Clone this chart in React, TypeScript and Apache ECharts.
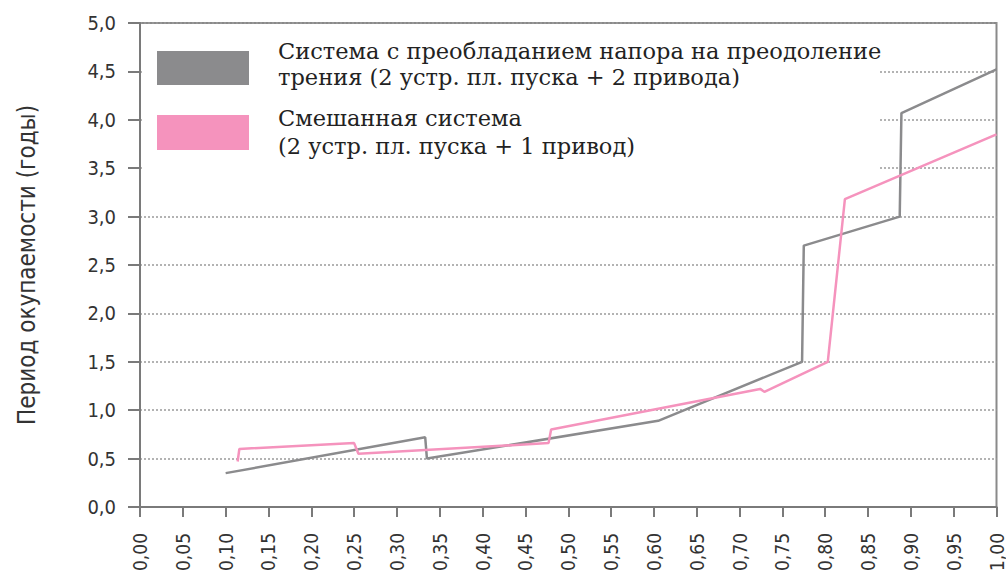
import React, { useEffect, useRef } from "react";
import * as echarts from "echarts";

const seriesNames = [
  "Система с преобладанием напора на преодоление\nтрения (2 устр. пл. пуска + 2 привода)",
  "Смешанная система\n(2 устр. пл. пуска + 1 привод)",
];
const grayX = [0.1, 0.333, 0.335, 0.605, 0.773, 0.775, 0.887, 0.889, 1.0];
const grayY = [0.35, 0.72, 0.5, 0.89, 1.5, 2.7, 3.0, 4.07, 4.52];
const pinkX = [0.114, 0.116, 0.25, 0.255, 0.477, 0.48, 0.724, 0.729, 0.803, 0.823, 1.0];
const pinkY = [0.47, 0.6, 0.66, 0.55, 0.66, 0.8, 1.22, 1.19, 1.5, 3.18, 3.85];
const yAxisName = "Период окупаемости (годы)";

const GRAY = "#8b8b8d";
const PINK = "#f593bd";

export default function App() {
  const ref = useRef<HTMLDivElement>(null);
  useEffect(() => {
    if (!ref.current) return;
    const chart = echarts.init(ref.current, null, { renderer: "svg" });
    const zip = (xs: number[], ys: number[]) => xs.map((x, i) => [x, ys[i]]);
    const sansFont = "'DejaVu Sans Condensed', 'Liberation Sans Narrow', 'Noto Sans', sans-serif";
    const serifFont = "'DejaVu Serif', serif";
    chart.setOption({
      animation: false,
      backgroundColor: "#ffffff",
      grid: {
        left: 140,
        right: 7,
        top: 23,
        bottom: 68,
        show: true,
        borderColor: "#8a8a8a",
        borderWidth: 2,
      },
      xAxis: {
        type: "value",
        min: 0,
        max: 1,
        interval: 0.05,
        axisLine: { show: true, lineStyle: { color: "#7a7a7a", width: 2 } },
        axisTick: { show: true, length: 10, lineStyle: { color: "#7a7a7a", width: 2 } },
        axisLabel: {
          rotate: 90,
          margin: 26,
          color: "#333",
          fontSize: 19,
          fontFamily: sansFont,
          formatter: (v: number) => v.toFixed(2).replace(".", ","),
        },
        splitLine: { show: false },
      },
      yAxis: {
        type: "value",
        min: 0,
        max: 5,
        interval: 0.5,
        name: yAxisName,
        nameLocation: "middle",
        nameGap: 101,
        nameTextStyle: { fontSize: 24, color: "#333", fontFamily: sansFont },
        axisLine: { show: true, lineStyle: { color: "#7a7a7a", width: 2 } },
        axisTick: { show: true, length: 12, lineStyle: { color: "#7a7a7a", width: 2 } },
        axisLabel: {
          margin: 24,
          color: "#333",
          fontSize: 20,
          fontFamily: sansFont,
          formatter: (v: number) => v.toFixed(1).replace(".", ","),
        },
        splitLine: { show: true, lineStyle: { color: "#9a9a9a", type: [2, 2], width: 1.5 } },
      },
      graphic: [
        { type: "rect", shape: { x: 142, y: 26, width: 736, height: 148 }, style: { fill: "#ffffff" }, z: 5 },
        { type: "rect", shape: { x: 157, y: 51, width: 92, height: 34 }, style: { fill: GRAY }, z: 6 },
        { type: "rect", shape: { x: 157, y: 115, width: 92, height: 35 }, style: { fill: PINK }, z: 6 },
        {
          type: "text",
          x: 278,
          y: 38,
          z: 6,
          style: { text: seriesNames[0], fill: "#222", fontSize: 22.5, lineHeight: 26, fontFamily: serifFont },
        },
        {
          type: "text",
          x: 278,
          y: 104,
          z: 6,
          style: { text: seriesNames[1], fill: "#222", fontSize: 22.5, lineHeight: 28, fontFamily: serifFont },
        },
      ],
      series: [
        {
          name: seriesNames[0],
          type: "line",
          data: zip(grayX, grayY),
          showSymbol: false,
          lineStyle: { color: GRAY, width: 2.5 },
          z: 3,
        },
        {
          name: seriesNames[1],
          type: "line",
          data: zip(pinkX, pinkY),
          showSymbol: false,
          lineStyle: { color: PINK, width: 2.5 },
          z: 3,
        },
      ],
    });
    return () => chart.dispose();
  }, []);
  return (
    <div
      ref={ref}
      style={{ position: "fixed", left: 0, top: 0, width: 1006, height: 575, background: "#fff" }}
    />
  );
}
